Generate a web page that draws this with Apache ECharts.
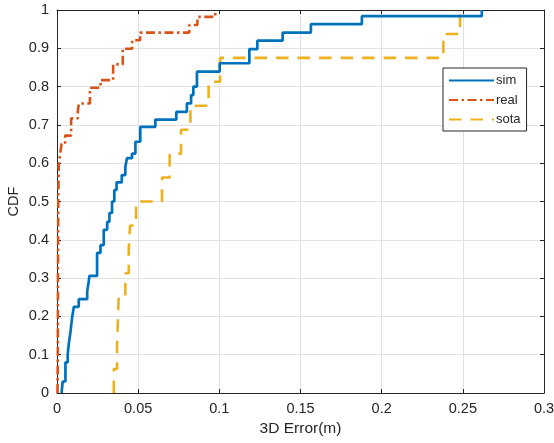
<html>
<head>
    <meta charset="UTF-8">
    <title>CDF of 3D error</title>
    <script src="https://cdn.jsdelivr.net/npm/echarts@6/dist/echarts.min.js"></script>
    <style>
        body { margin: 0; background: #fff; }
        #chart { width: 554px; height: 443px; }
    </style>
</head>
<body>
    <div id="chart"></div>
    <script>
        // step points: [error (m), CDF]
        var simPts = [
            [0.0028, 0], [0.0035, 0.03], [0.0052, 0.08], [0.0066, 0.10], [0.0073, 0.13],
            [0.0083, 0.16], [0.0094, 0.20], [0.0104, 0.225], [0.0134, 0.245], [0.0186, 0.265],
            [0.0195, 0.29], [0.0200, 0.306], [0.0247, 0.366], [0.0268, 0.386], [0.0288, 0.426],
            [0.0309, 0.447], [0.0323, 0.47], [0.0339, 0.50], [0.0353, 0.53], [0.0367, 0.55],
            [0.0399, 0.569], [0.0421, 0.59], [0.0431, 0.613], [0.0462, 0.625], [0.0483, 0.656],
            [0.0513, 0.695], [0.0606, 0.714], [0.0735, 0.734], [0.0800, 0.756], [0.0826, 0.778],
            [0.0840, 0.80], [0.0862, 0.839], [0.1002, 0.861], [0.1185, 0.898], [0.1234, 0.92],
            [0.1390, 0.941], [0.1564, 0.963], [0.1878, 0.984], [0.2617, 1.0]
        ];
        var realPts = [
            [0.0003, 0], [0.0005, 0.1], [0.0006, 0.3], [0.0008, 0.5], [0.0011, 0.6],
            [0.0018, 0.62], [0.0028, 0.65], [0.0050, 0.672], [0.0087, 0.717], [0.0128, 0.735],
            [0.0135, 0.756], [0.0203, 0.797], [0.0268, 0.817], [0.0346, 0.858], [0.0405, 0.899],
            [0.0463, 0.921], [0.0512, 0.941], [0.0815, 0.961], [0.0865, 0.982], [0.0975, 1.0]
        ];
        var sotaPts = [
            [0.0350, 0], [0.0350, 0.0625], [0.0370, 0.125], [0.0375, 0.1875], [0.0380, 0.25],
            [0.0421, 0.3125], [0.0442, 0.375], [0.0450, 0.4375], [0.0487, 0.5], [0.0647, 0.5625],
            [0.0694, 0.625], [0.0764, 0.6875], [0.0822, 0.75], [0.0934, 0.8125], [0.1005, 0.875],
            [0.2380, 0.9375], [0.2483, 1.0]
        ];
        var seriesNames = ['sim', 'real', 'sota'];

        var font = "'Liberation Sans', Arial, sans-serif";
        var ink = '#262626';
        var chart = echarts.init(document.getElementById('chart'), null, { renderer: 'canvas' });

        // plain axis used only to close the box (top / right), MATLAB style
        function boxAxis(pos, max, step) {
            return {
                type: 'value', position: pos, min: 0, max: max, interval: step,
                axisLine: { show: true, onZero: false, lineStyle: { color: ink, width: 1 } },
                axisTick: { show: true, inside: true, length: 4, lineStyle: { color: ink } },
                axisLabel: { show: false },
                splitLine: { show: false }
            };
        }

        chart.setOption({
            animation: false,
            backgroundColor: '#fff',
            grid: { left: 57, right: 10, top: 10, bottom: 50, containLabel: false, outerBoundsMode: 'none' },
            legend: {
                orient: 'vertical', left: 443, top: 68,
                data: seriesNames,
                itemWidth: 45, itemHeight: 12, itemGap: 6.5,
                padding: [6, 6, 5, 5],
                itemStyle: { opacity: 0 },
                backgroundColor: '#fff', borderColor: ink, borderWidth: 1, borderRadius: 0,
                textStyle: { fontFamily: font, fontSize: 13, color: ink, padding: [0, 0, 0, -3] }
            },
            xAxis: [{
                type: 'value', min: 0, max: 0.3, interval: 0.05,
                name: '3D Error(m)', nameLocation: 'middle', nameGap: 28, nameMoveOverlap: false,
                nameTextStyle: { fontFamily: font, fontSize: 15.5, color: ink },
                axisLine: { onZero: false, lineStyle: { color: ink, width: 1 } },
                axisTick: { inside: true, length: 4, lineStyle: { color: ink } },
                axisLabel: { fontFamily: font, fontSize: 14.5, color: ink, margin: 8 },
                splitLine: { show: true, lineStyle: { color: '#e1e1e1', width: 1 } }
            }, boxAxis('top', 0.3, 0.05)],
            yAxis: [{
                type: 'value', min: 0, max: 1, interval: 0.1,
                name: 'CDF', nameLocation: 'middle', nameGap: 36, nameRotate: 90, nameMoveOverlap: false,
                nameTextStyle: { fontFamily: font, fontSize: 14.5, color: ink },
                axisLine: { show: true, onZero: false, lineStyle: { color: ink, width: 1 } },
                axisTick: { show: true, inside: true, length: 4, lineStyle: { color: ink } },
                axisLabel: { fontFamily: font, fontSize: 14.5, color: ink, margin: 8 },
                splitLine: { show: true, lineStyle: { color: '#e1e1e1', width: 1 } }
            }, boxAxis('right', 1, 0.1)],
            series: [{
                name: 'sim', type: 'line', step: 'end', data: simPts,
                symbol: 'none', showSymbol: false, z: 4,
                itemStyle: { color: '#0072BD' },
                lineStyle: { color: '#0072BD', width: 2.7, cap: 'butt' }
            }, {
                name: 'real', type: 'line', step: 'end', data: realPts,
                symbol: 'none', showSymbol: false, z: 3,
                itemStyle: { color: '#D95319' },
                lineStyle: { color: '#D95319', width: 2.6, type: [9, 3.5, 2.5, 3.5], cap: 'butt' }
            }, {
                name: 'sota', type: 'line', step: 'end', data: sotaPts,
                symbol: 'none', showSymbol: false, z: 2,
                itemStyle: { color: '#EDB120' },
                lineStyle: { color: '#EDB120', width: 2.6, type: [12.5, 9], cap: 'butt' }
            }]
        });
    </script>
</body>
</html>
